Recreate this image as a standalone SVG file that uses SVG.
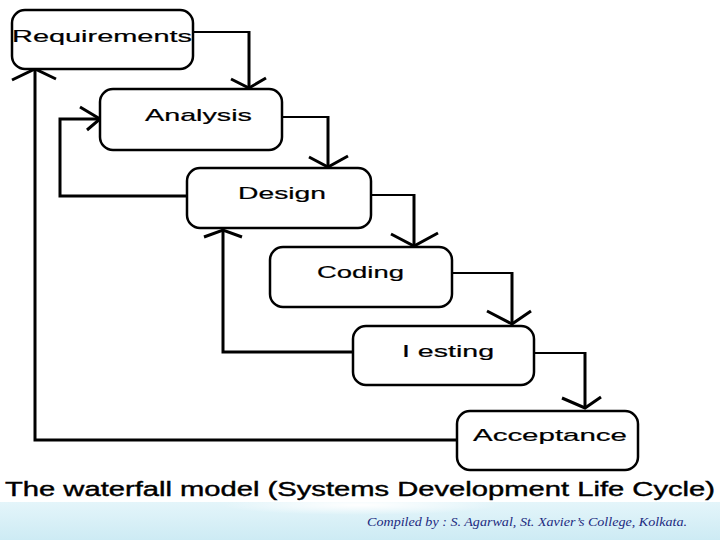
<svg xmlns="http://www.w3.org/2000/svg" width="720" height="540" viewBox="0 0 720 540">
<defs>
<style>
.box{fill:#fff;stroke:#000;stroke-width:2.5}
.lbl{font-family:"Liberation Sans",Arial,sans-serif;font-size:17px;fill:#000;stroke:#000;stroke-width:0.2}
.ln{fill:none;stroke:#000;stroke-width:3;stroke-linejoin:miter}
.ln2{fill:none;stroke:#000;stroke-width:2}
.ah{fill:none;stroke:#000;stroke-width:3;stroke-linecap:butt;stroke-linejoin:miter}
</style>
<linearGradient id="band" x1="0" y1="0" x2="0" y2="1">
<stop offset="0" stop-color="#e4f5fa"/>
<stop offset="1" stop-color="#cdebf4"/>
</linearGradient>
<radialGradient id="glow" cx="0.5" cy="0.5" r="0.5">
<stop offset="0" stop-color="#ffffff" stop-opacity="1"/>
<stop offset="1" stop-color="#ffffff" stop-opacity="0"/>
</radialGradient>
</defs>
<rect width="720" height="540" fill="#fff"/>
<rect x="0" y="502" width="720" height="38" fill="url(#band)"/>
<ellipse cx="360" cy="505" rx="140" ry="10" fill="url(#glow)"/>

<g id="connectors">
<polyline class="ln2" points="193,32 249,32"/>
<polyline class="ln" points="249,31 249,88"/>
<polyline class="ah" points="231,79 249,88 266,78"/>

<polyline class="ln2" points="282,117 328,117"/>
<polyline class="ln" points="328,116 328,167"/>
<polyline class="ah" points="309,157 328,167 348,156"/>

<polyline class="ln2" points="371,195 414,195"/>
<polyline class="ln" points="414,194 414,246"/>
<polyline class="ah" points="391,234 414,246 438,233"/>

<polyline class="ln2" points="452,273 512,273"/>
<polyline class="ln" points="512,272 512,324"/>
<polyline class="ah" points="487,311 512,324 531,311"/>

<polyline class="ln2" points="534,353 585,353"/>
<polyline class="ln" points="585,352 585,408"/>
<polyline class="ah" points="562,398 585,408 601,397"/>

<polyline class="ln" points="188,196 60,196 60,119 100,119"/>
<polyline class="ah" points="80,107 100,119 87,130"/>

<polyline class="ln" points="353,352 223,352 223,230"/>
<polyline class="ah" points="204,237 223,230 242,237"/>

<polyline class="ln" points="457,440 35,440 35,69"/>
<polyline class="ah" points="12,80 35,69 56,79"/>
</g>

<g id="requirements">
<rect class="box" x="12" y="10" width="181" height="59" rx="13"/>
<text class="lbl" x="12" y="42" font-size="18" textLength="180" lengthAdjust="spacingAndGlyphs">Requirements</text>
</g>
<g id="analysis">
<rect class="box" x="100" y="89" width="182" height="61" rx="13"/>
<text class="lbl" x="145" y="121" textLength="107" lengthAdjust="spacingAndGlyphs">Analysis</text>
</g>
<g id="design">
<rect class="box" x="187" y="168" width="184" height="60" rx="13"/>
<text class="lbl" x="238" y="199" textLength="88" lengthAdjust="spacingAndGlyphs">Design</text>
</g>
<g id="coding">
<rect class="box" x="270" y="247" width="182" height="60" rx="13"/>
<text class="lbl" x="317" y="278" textLength="87" lengthAdjust="spacingAndGlyphs">Coding</text>
</g>
<g id="testing">
<rect class="box" x="353" y="326" width="181" height="59" rx="13"/>
<text class="lbl" x="402" y="357" textLength="92" lengthAdjust="spacingAndGlyphs">I esting</text>
</g>
<g id="acceptance">
<rect class="box" x="457" y="411" width="181" height="59" rx="13"/>
<text class="lbl" x="473" y="441" textLength="154" lengthAdjust="spacingAndGlyphs">Acceptance</text>
</g>

<text x="5" y="496" font-family="'Liberation Sans',Arial,sans-serif" font-size="20" fill="#000" stroke="#000" stroke-width="0.4" textLength="710" lengthAdjust="spacingAndGlyphs">The waterfall model (Systems Development Life Cycle)</text>
<text x="367" y="526" font-family="'Liberation Serif','Times New Roman',serif" font-style="italic" font-size="13" fill="#1c2a80" textLength="320" lengthAdjust="spacingAndGlyphs">Compiled by : S. Agarwal, St. Xavier’s College, Kolkata.</text>
</svg>
